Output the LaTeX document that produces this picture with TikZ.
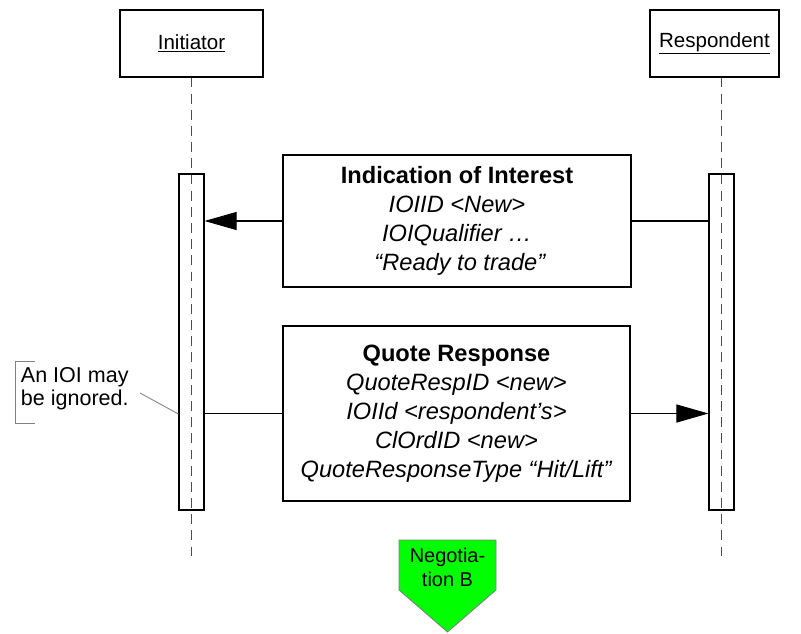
\documentclass[tikz,border=0pt]{standalone}
\usepackage{fontspec}
\setmainfont{Liberation Sans}
\usetikzlibrary{arrows.meta}
\pgfdeclarelayer{background}
\pgfsetlayers{background,main}

\tikzset{
  actor/.style = {draw, line width=0.8pt, fill=white, minimum height=1.675cm, font=\fontsize{14.6}{16}\selectfont},
  msgbox/.style = {draw, line width=1pt, fill=white, align=center, font=\fontsize{16.8}{20.6}\selectfont},
  actbar/.style = {draw, line width=0.8pt, minimum width=0.625cm, minimum height=8.4cm},
  lifeline/.style = {gray!60!black, line width=0.8pt, dash pattern=on 7pt off 4.5pt},
  msg/.style = {line width=0.8pt, -{Triangle[length=0.8cm, width=0.45cm]}},
  notemark/.style = {gray, line width=0.6pt}
}

\begin{document}
\begin{tikzpicture}[x=0.025cm, y=-0.025cm]
	\useasboundingbox (0,0) rectangle (801,633);

	% actors
	\node[actor, minimum width=3.575cm] (init) at (191.5,43.5) {\underline{Initiator}};
	\node[actor, minimum width=3.225cm] (resp) at (714.5,43.5) {\underline{Respondent}};

	% activation bars
	\node[actbar] (lbar) at (191.5,342) {};
	\node[actbar] (rbar) at (721.5,342) {};

	\coordinate (lend) at (191.5,556);
	\coordinate (rend) at (721.5,556);

	% messages
	\node[msgbox, minimum width=8.7cm, minimum height=3.3cm] (ioi) at (457,221)
		{\textbf{Indication of Interest}\\ \textit{IOIID <New>}\\ \textit{IOIQualifier \ldots}\\ \textit{\ ``Ready to trade''}};
	\node[msgbox, minimum width=8.675cm, minimum height=4.375cm] (qr) at (456.5,413.5)
		{\textbf{Quote Response}\\ \textit{QuoteRespID <new>}\\ \textit{IOIId <respondent's>}\\ \textit{ClOrdID <new>}\\ \textit{QuoteResponseType ``Hit/Lift''}};

	\begin{pgfonlayer}{background}
		\draw[lifeline] (init.south) -- (lend);
		\draw[lifeline] (resp.south -| rend) -- (rend);
		\draw[msg] (rbar.west |- ioi) -- (lbar.east |- ioi);
		\draw[msg] (lbar.east |- qr) -- (rbar.west |- qr);
	\end{pgfonlayer}

	% note
	\node[anchor=west, align=left, font=\fontsize{15.3}{16.5}\selectfont] (note) at (16,389) {An IOI may\\be ignored.};
	\draw[notemark] (35,361) -- (15,361) -- (15,423) -- (35,423);
	\draw[notemark] (140,393) -- (lbar.west |- 0,414);

	% off-page connector
	\draw[gray, line width=0.6pt, fill=green] (399,540) -- (496,540) -- (496,590) -- (447.5,632) -- (399,590) -- cycle;
	\node[align=center, font=\fontsize{14.2}{17}\selectfont] (negB) at (447.5,567) {Negotia-\\tion B};
\end{tikzpicture}
\end{document}
